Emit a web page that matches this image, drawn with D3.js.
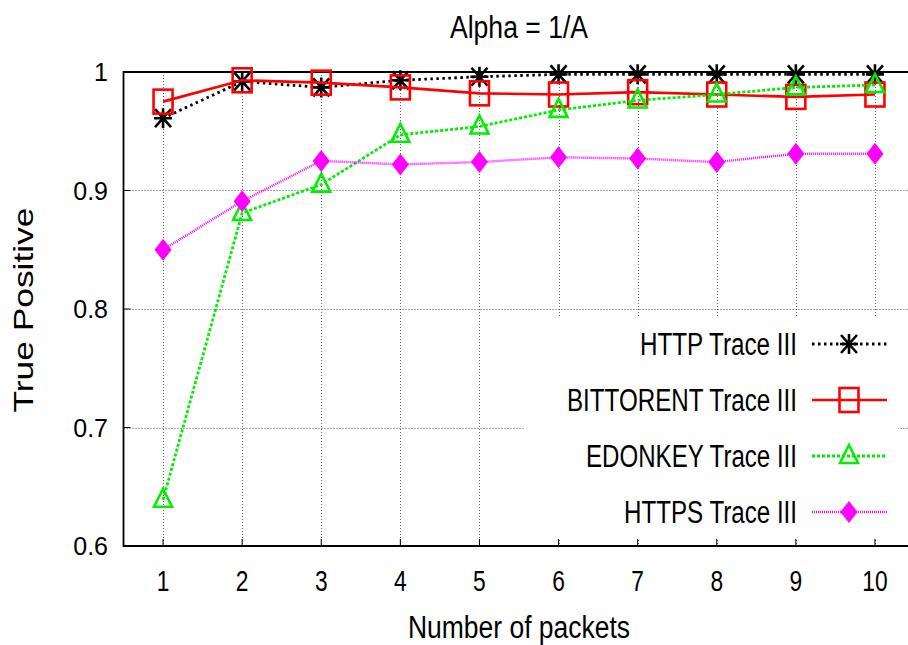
<!DOCTYPE html>
<html>
<head>
<meta charset="utf-8">
<script src="https://cdn.jsdelivr.net/npm/d3@7"></script>
<style>
  html, body { margin: 0; padding: 0; background: #fff; }
  svg { display: block; }
</style>
</head>
<body>
<svg id="chart" width="908" height="645"></svg>
<script>
const packets = [1, 2, 3, 4, 5, 6, 7, 8, 9, 10];
const httpValues      = [0.961, 0.992, 0.987, 0.993, 0.996, 0.998, 0.998, 0.998, 0.998, 0.998];
const bittorentValues = [0.975, 0.993, 0.991, 0.987, 0.982, 0.981, 0.983, 0.981, 0.979, 0.981];
const edonkeyValues   = [0.639, 0.881, 0.905, 0.947, 0.954, 0.968, 0.976, 0.981, 0.987, 0.989];
const httpsValues     = [0.850, 0.891, 0.925, 0.922, 0.924, 0.928, 0.927, 0.924, 0.931, 0.931];
const seriesNames = ["HTTP Trace III", "BITTORENT Trace III", "EDONKEY Trace III", "HTTPS Trace III"];
const yTicks = [0.6, 0.7, 0.8, 0.9, 1];
const yTickLabels = ["0.6", "0.7", "0.8", "0.9", "1"];
const titleText = "Alpha = 1/A";
const xLabelText = "Number of packets";
const yLabelText = "True Positive";

const FONT = "'Liberation Sans', Arial, Helvetica, sans-serif";

const svg = d3.select("#chart");
const x = d3.scaleLinear().domain([0.5, 10.5]).range([123.5, 914.5]);
const y = d3.scaleLinear().domain([0.6, 1]).range([546, 72]);

const series = [
  { name: seriesNames[0], values: httpValues, color: "#000000", dash: "2.5,3.5", width: 2.8, marker: "star" },
  { name: seriesNames[1], values: bittorentValues, color: "#ff0000", dash: null, width: 2.6, marker: "square" },
  { name: seriesNames[2], values: edonkeyValues, color: "#00ee00", dash: "3,2", width: 2.8, marker: "triangle" },
  { name: seriesNames[3], values: httpsValues, color: "#ff00ff", dash: "1,1", width: 2.4, marker: "diamond" }
];

// Grid
const grid = svg.append("g");
yTicks.slice(1, -1).forEach(t => {
  grid.append("line").attr("x1", x(0.5)).attr("x2", x(10.5))
    .attr("y1", Math.round(y(t)) + 0.5).attr("y2", Math.round(y(t)) + 0.5)
    .attr("stroke", "#555").attr("stroke-width", 1).attr("stroke-dasharray", "1,2");
});
packets.forEach(p => {
  grid.append("line").attr("x1", Math.round(x(p)) + 0.5).attr("x2", Math.round(x(p)) + 0.5)
    .attr("y1", y(1)).attr("y2", y(0.6))
    .attr("stroke", "#666").attr("stroke-width", 1).attr("stroke-dasharray", "1,2");
});

// legend clear area
svg.append("rect").attr("x", 525).attr("y", 316).attr("width", 373).attr("height", 224).attr("fill", "#fff");

// Frame and ticks
const frame = svg.append("g").attr("stroke", "#000").attr("stroke-width", 1.8).attr("fill", "none");
frame.append("path").attr("d", `M${x(10.5)},${y(1)}H${x(0.5)}V${y(0.6)}H${x(10.5)}`);
yTicks.forEach(t => {
  frame.append("line").attr("x1", x(0.5)).attr("x2", x(0.5) + 7).attr("y1", y(t)).attr("y2", y(t)).attr("stroke-width", 1);
});
packets.forEach(p => {
  frame.append("line").attr("x1", x(p)).attr("x2", x(p)).attr("y1", y(0.6)).attr("y2", y(0.6) - 7).attr("stroke-width", 1);
});

// Tick labels
svg.append("g").selectAll("text").data(yTicks).join("text")
  .attr("x", 108).attr("y", d => y(d)).attr("dy", "0.36em")
  .attr("text-anchor", "end").attr("font-family", FONT).attr("font-size", 25)
  .text((d, i) => yTickLabels[i]);
svg.append("g").selectAll("text").data(packets).join("text")
  .attr("transform", d => `translate(${x(d)},580) scale(0.76,1)`).attr("dy", "0.36em")
  .attr("text-anchor", "middle").attr("font-family", FONT).attr("font-size", 30)
  .text(d => d);

// Titles
svg.append("text").attr("x", 519).attr("y", 27).attr("dy", "0.36em")
  .attr("text-anchor", "middle").attr("font-family", FONT).attr("font-size", 31)
  .attr("textLength", 138).attr("lengthAdjust", "spacingAndGlyphs").text(titleText);
svg.append("text").attr("x", 519).attr("y", 627).attr("dy", "0.36em")
  .attr("text-anchor", "middle").attr("font-family", FONT).attr("font-size", 31)
  .attr("textLength", 222).attr("lengthAdjust", "spacingAndGlyphs").text(xLabelText);
svg.append("text").attr("transform", "translate(23,310) rotate(-90)").attr("dy", "0.36em")
  .attr("text-anchor", "middle").attr("font-family", FONT).attr("font-size", 28)
  .attr("textLength", 205).attr("lengthAdjust", "spacingAndGlyphs").text(yLabelText);

function drawMarker(g, type, cx, cy, color) {
  if (type === "star") {
    g.append("path").attr("d",
      `M${cx-9},${cy}H${cx+9}M${cx},${cy-10}V${cy+10}M${cx-8},${cy-9}L${cx+8},${cy+9}M${cx-8},${cy+9}L${cx+8},${cy-9}`)
      .attr("stroke", color).attr("stroke-width", 2.6).attr("fill", "none");
  } else if (type === "square") {
    g.append("rect").attr("x", cx - 9.5).attr("y", cy - 12).attr("width", 19).attr("height", 24)
      .attr("stroke", color).attr("stroke-width", 2.6).attr("fill", "none");
  } else if (type === "triangle") {
    g.append("path").attr("d", `M${cx},${cy-11}L${cx+9},${cy+7}L${cx-9},${cy+7}Z`)
      .attr("stroke", color).attr("stroke-width", 2.6).attr("fill", "none");
  } else if (type === "diamond") {
    g.append("path").attr("d", `M${cx},${cy-11}L${cx+8.5},${cy}L${cx},${cy+11}L${cx-8.5},${cy}Z`)
      .attr("fill", color).attr("stroke", "none");
  }
}

// Data
const line = d3.line().x((d, i) => x(packets[i])).y(d => y(d));
series.forEach(s => {
  const g = svg.append("g");
  g.append("path").attr("d", line(s.values)).attr("fill", "none")
    .attr("stroke", s.color).attr("stroke-width", s.width)
    .attr("stroke-dasharray", s.dash);
  s.values.forEach((v, i) => drawMarker(g, s.marker, x(packets[i]), y(v), s.color));
});

// Legend
const legendY = [344, 400, 456, 512];
const legendW = [157, 230, 211, 173];
series.forEach((s, i) => {
  const g = svg.append("g");
  g.append("text").attr("x", 797).attr("y", legendY[i]).attr("dy", "0.36em")
    .attr("text-anchor", "end").attr("font-family", FONT).attr("font-size", 31)
    .attr("textLength", legendW[i]).attr("lengthAdjust", "spacingAndGlyphs").text(s.name);
  g.append("line").attr("x1", 812).attr("x2", 887).attr("y1", legendY[i]).attr("y2", legendY[i])
    .attr("stroke", s.color).attr("stroke-width", s.width).attr("stroke-dasharray", s.dash);
  drawMarker(g, s.marker, 849, legendY[i], s.color);
});
</script>
</body>
</html>
